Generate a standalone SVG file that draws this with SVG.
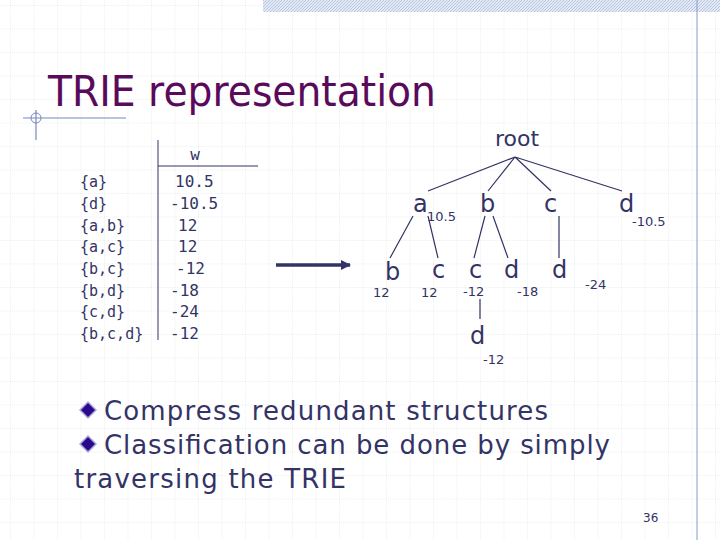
<svg xmlns="http://www.w3.org/2000/svg" width="720" height="540" viewBox="0 0 720 540">
<defs>
<pattern id="grid" width="23.5" height="23.5" patternUnits="userSpaceOnUse" x="10" y="5">
<path d="M0 0H23.5M0 0V23.5" stroke="#d8d8d8" stroke-width="0.8" stroke-dasharray="1 1" fill="none"/>
</pattern>
<pattern id="hatch" width="3" height="3" patternUnits="userSpaceOnUse">
<rect width="3" height="3" fill="#e4eaf5"/><path d="M0 3L3 0" stroke="#b8c6e2" stroke-width="1"/>
</pattern>
<marker id="ah" markerWidth="10" markerHeight="10" refX="9" refY="5" orient="auto" markerUnits="userSpaceOnUse">
<path d="M0 0L10 5L0 10z" fill="#333366"/>
</marker>
<style>
.t{font-family:"DejaVu Sans",sans-serif;fill:#333366}
.m{font-family:"DejaVu Sans Mono",monospace;font-size:16px;fill:#333366}
.k{font-family:"DejaVu Sans Mono",monospace;font-size:15px;fill:#333366}
.n{font-size:24px}.v{font-size:13px}
.e{stroke:#333366;stroke-width:1.2;fill:none}
</style>
</defs>
<rect width="720" height="540" fill="#fff"/>
<rect width="720" height="540" fill="url(#grid)"/>
<rect x="263" y="0" width="457" height="12" fill="url(#hatch)"/>
<line x1="697" y1="0" x2="697" y2="540" stroke="#8899cc" stroke-width="1"/>
<line x1="23" y1="118" x2="126" y2="118" stroke="#7788bb" stroke-width="1.2"/>
<line x1="36" y1="110" x2="36" y2="140" stroke="#7788bb" stroke-width="1.2"/>
<circle cx="36" cy="118" r="5" fill="none" stroke="#7788bb"/>
<text x="48" y="106" font-family="DejaVu Sans,sans-serif" font-size="43" fill="#5a0a5a" textLength="388" lengthAdjust="spacingAndGlyphs">TRIE representation</text>
<g id="table">
<line x1="158" y1="140" x2="158" y2="340" stroke="#333366"/>
<line x1="158" y1="166" x2="258" y2="166" stroke="#333366"/>
<text class="m" x="195" y="160" text-anchor="middle">w</text>
<g class="k">
<text x="80" y="187">{a}</text><text x="80" y="209">{d}</text><text x="80" y="231">{a,b}</text><text x="80" y="252">{a,c}</text>
<text x="80" y="274">{b,c}</text><text x="80" y="296">{b,d}</text><text x="80" y="317">{c,d}</text><text x="80" y="339">{b,c,d}</text>
</g>
<g class="m">
<text x="175" y="187">10.5</text><text x="170" y="209">-10.5</text><text x="178" y="231">12</text><text x="178" y="252">12</text>
<text x="176" y="274">-12</text><text x="170" y="296">-18</text><text x="170" y="317">-24</text><text x="170" y="339">-12</text>
</g>
</g>
<g id="connectors">
<line x1="276" y1="265" x2="350" y2="265" stroke="#333366" stroke-width="3.5" marker-end="url(#ah)"/>
<path class="e" d="M515 157L428 191M515 157L488 191M515 157L551 191M515 157L622 191M413 216L390 258M428 216L438 258M485 216L474 258M493 216L508 258M559 216L559 258M480 299L480 319"/>
</g>
<g id="root"><text class="t" x="517" y="146" font-size="22" text-anchor="middle">root</text></g>
<g id="a"><text class="t n" x="413" y="212">a</text><text class="t v" x="427" y="221">10.5</text></g>
<g id="b"><text class="t n" x="480" y="212">b</text></g>
<g id="c"><text class="t n" x="544" y="212">c</text></g>
<g id="d"><text class="t n" x="619" y="212">d</text><text class="t v" x="632" y="226">-10.5</text></g>
<g id="ab"><text class="t n" x="385" y="280">b</text><text class="t v" x="373" y="297">12</text></g>
<g id="ac"><text class="t n" x="432" y="278">c</text><text class="t v" x="421" y="297">12</text></g>
<g id="bc"><text class="t n" x="469" y="278">c</text><text class="t v" x="463" y="296">-12</text></g>
<g id="bd"><text class="t n" x="504" y="278">d</text><text class="t v" x="517" y="296">-18</text></g>
<g id="cd"><text class="t n" x="552" y="278">d</text><text class="t v" x="585" y="289">-24</text></g>
<g id="bcd"><text class="t n" x="470" y="344">d</text><text class="t v" x="483" y="364">-12</text></g>
<g id="bullets">
<path d="M88 402L96 410L88 418L80 410z" fill="#2a0a8a" stroke="#aaaadd" stroke-width="1.5"/>
<path d="M88 436L96 444L88 452L80 444z" fill="#2a0a8a" stroke="#aaaadd" stroke-width="1.5"/>
<text class="t" font-size="26" x="104" y="420" textLength="444">Compress redundant structures</text>
<text class="t" font-size="26" x="104" y="454" textLength="506">Classification can be done by simply</text>
<text class="t" font-size="26" x="74" y="488" textLength="272">traversing the TRIE</text>
</g>
<text class="t" x="643" y="522" font-size="12">36</text>
</svg>
